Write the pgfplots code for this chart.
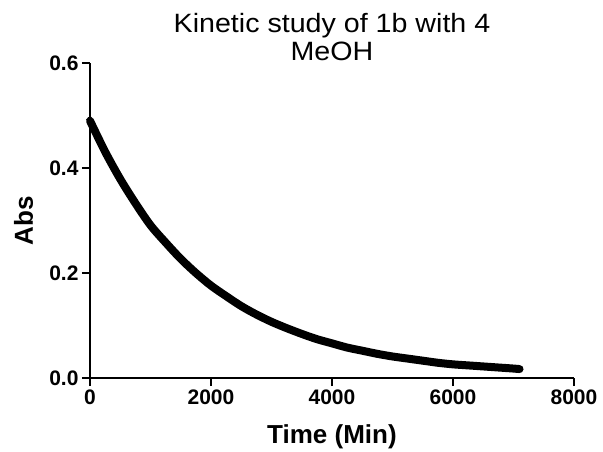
\documentclass[border=0pt]{standalone}
\usepackage{fontspec}
\setmainfont{Liberation Sans}
\newfontfamily\titlefont[FakeStretch=1.08]{Liberation Sans}
\usepackage{pgfplots}
\pgfplotsset{compat=1.18}

\pgfplotstableread{
t     abs
0     0.490
250   0.431
500   0.379
750   0.333
1000  0.291
1250  0.258
1500  0.227
1750  0.200
2000  0.176
2250  0.156
2500  0.137
2750  0.121
3000  0.107
3250  0.095
3500  0.084
3750  0.074
4000  0.066
4250  0.058
4500  0.052
4750  0.046
5000  0.041
5250  0.037
5500  0.033
5750  0.029
6000  0.026
6250  0.024
6500  0.022
6750  0.020
7000  0.018
7100  0.017
}\kinetic

\begin{document}
\begin{tikzpicture}
\useasboundingbox (-90bp,-74bp) rectangle (513bp,378bp);
\begin{axis}[
  at={(0,0)}, anchor=origin,
  scale only axis,
  width=484bp, height=315bp,
  xmin=0, xmax=8000,
  ymin=0, ymax=0.6,
  axis x line*=bottom,
  axis y line*=left,
  axis line style={line width=1.3bp, -},
  every tick/.style={line width=1.3bp, black},
  tick align=outside,
  major tick length=8bp,
  xtick={0,2000,4000,6000,8000},
  ytick={0,0.2,0.4,0.6},
  minor tick num=0,
  scaled ticks=false,
  /pgf/number format/assume math mode=true,
  xticklabel style={/pgf/number format/.cd, 1000 sep={}},
  yticklabel style={/pgf/number format/.cd, fixed, fixed zerofill, precision=1},
  tick label style={font=\fontsize{21bp}{25bp}\selectfont\bfseries},
  xlabel={Time (Min)},
  ylabel={Abs},
  label style={font=\fontsize{26bp}{30bp}\selectfont\bfseries},
  xlabel style={at={(axis description cs:0.5,-0.187)}, anchor=center},
  ylabel style={at={(axis description cs:-0.137,0.5)}, anchor=center},
  title={Kinetic study of 1b with 4\\MeOH},
  title style={at={(axis description cs:0.5,1.064)}, anchor=center, align=center,
    font=\titlefont\fontsize{26.5bp}{28bp}\selectfont},
  clip=false,
]
\addplot[black, line width=8bp, line cap=round, line join=round, smooth] table[x=t, y=abs] {\kinetic};
\end{axis}
\end{tikzpicture}
\end{document}
